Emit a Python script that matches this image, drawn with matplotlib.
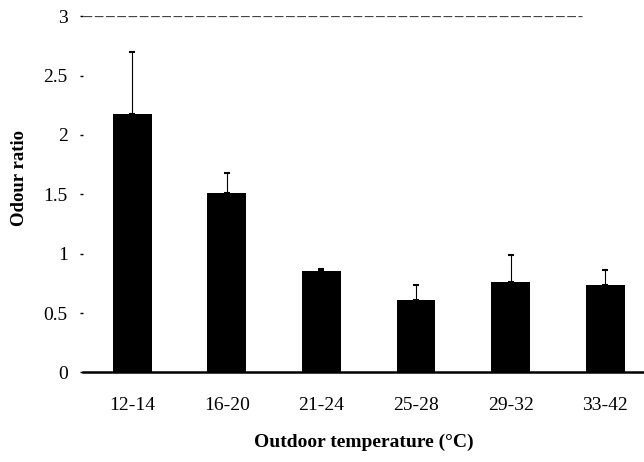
import matplotlib
matplotlib.use("Agg")
import matplotlib.pyplot as plt

categories = ["12-14", "16-20", "21-24", "25-28", "29-32", "33-42"]
odour_ratio = [2.18, 1.51, 0.85, 0.61, 0.76, 0.74]
upper_err = [0.52, 0.17, 0.02, 0.13, 0.23, 0.12]
y_ticks = [0, 0.5, 1, 1.5, 2, 2.5, 3]
y_tick_labels = ["0", "0.5", "1", "1.5", "2", "2.5", "3"]

plt.rcParams['font.family'] = ['Liberation Serif', 'DejaVu Serif']

fig = plt.figure(figsize=(6.44, 4.62), dpi=100)
ax = fig.add_axes([0.129, 0.194, 0.871, 0.771])

x = range(len(categories))
ax.bar(x, odour_ratio, width=0.41, color='black', zorder=2)
ax.errorbar(x, odour_ratio, yerr=[[0]*len(upper_err), upper_err], fmt='none',
            ecolor='black', elinewidth=0.8, capsize=2, capthick=1.5, zorder=3)

# dashed line at the top of the scale
ax.axhline(3, xmin=0.0, xmax=0.89, color='#444444', lw=0.9, ls=(0, (7, 2)), zorder=1)

ax.set_xlim(-0.52, 5.41)
ax.set_ylim(0, 3)
ax.set_xticks(list(x))
ax.set_xticklabels(categories, fontsize=14)
ax.set_yticks(y_ticks)
ax.set_yticklabels(y_tick_labels, fontsize=14)

for s in ['top', 'right', 'left']:
    ax.spines[s].set_visible(False)
ax.spines['bottom'].set_linewidth(1.8)
ax.tick_params(axis='x', length=0, pad=18)
ax.tick_params(axis='y', length=2, width=1, pad=9)

ax.set_xlabel("Outdoor temperature (°C)", fontsize=14, fontweight='bold', labelpad=14)
fig.text(0.031, 0.615, "Odour ratio", rotation=90, fontsize=13.5, fontweight='bold',
         ha='center', va='center')

fig.savefig("out.png", dpi=100)
